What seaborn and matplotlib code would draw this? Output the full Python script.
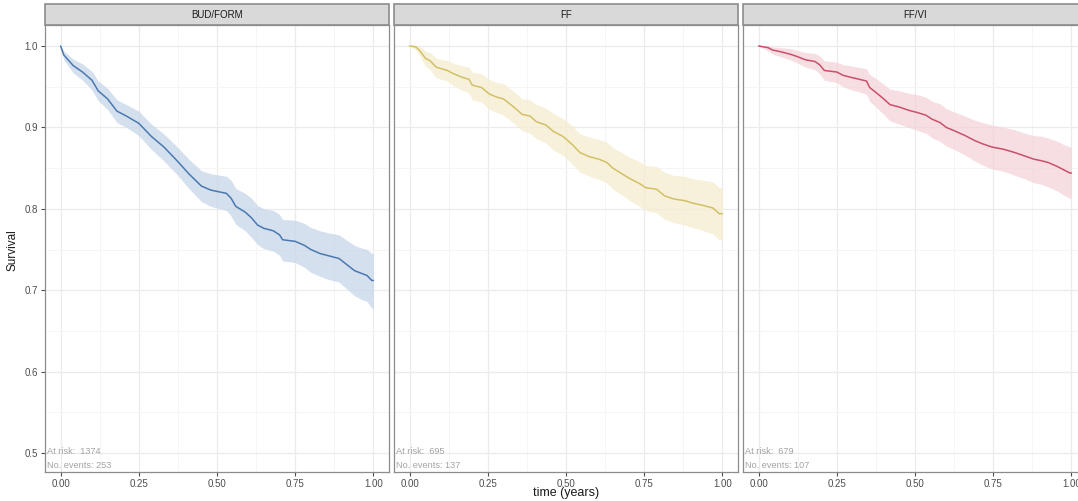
import numpy as np
import pandas as pd
import matplotlib
matplotlib.use("Agg")
import matplotlib.pyplot as plt
from matplotlib.patches import Rectangle
import seaborn as sns

sns.set_theme(style="white")
plt.rcParams["font.family"] = ["Liberation Sans", "DejaVu Sans"]

groups = ["BUD/FORM", "FF", "FF/VI"]
at_risk = [1374, 695, 679]
n_events = [253, 137, 107]
line_colors = ["#4A78B0", "#D2C064", "#C9506A"]
band_colors = ["#C7D6EA", "#F5EDCF", "#F3D3DA"]

budform_time = [0, 0.01, 0.04, 0.07, 0.10, 0.12, 0.15, 0.18, 0.21, 0.25, 0.29, 0.33,
                0.37, 0.41, 0.45, 0.48, 0.53, 0.545, 0.56, 0.59, 0.61, 0.63, 0.65,
                0.68, 0.70, 0.71, 0.75, 0.78, 0.80, 0.83, 0.85, 0.89, 0.92, 0.94,
                0.96, 0.98, 0.995, 1.0]
budform_surv = [1.0, 0.989, 0.976, 0.968, 0.958, 0.945, 0.935, 0.920, 0.914, 0.905,
                0.889, 0.876, 0.860, 0.843, 0.828, 0.823, 0.819, 0.813, 0.803, 0.796,
                0.789, 0.780, 0.776, 0.773, 0.768, 0.762, 0.760, 0.755, 0.750, 0.745,
                0.743, 0.739, 0.730, 0.724, 0.721, 0.718, 0.712, 0.712]
budform_upper = [1.0, 0.994, 0.984, 0.978, 0.969, 0.957, 0.948, 0.934, 0.928, 0.920,
                 0.904, 0.892, 0.877, 0.861, 0.847, 0.843, 0.840, 0.835, 0.825, 0.819,
                 0.813, 0.804, 0.800, 0.798, 0.793, 0.787, 0.786, 0.782, 0.777, 0.773,
                 0.771, 0.768, 0.760, 0.755, 0.752, 0.750, 0.745, 0.745]
budform_lower = [1.0, 0.983, 0.967, 0.958, 0.946, 0.933, 0.922, 0.906, 0.900, 0.890,
                 0.873, 0.859, 0.843, 0.825, 0.809, 0.803, 0.798, 0.791, 0.781, 0.773,
                 0.765, 0.756, 0.751, 0.748, 0.743, 0.736, 0.734, 0.728, 0.722, 0.717,
                 0.714, 0.710, 0.700, 0.693, 0.689, 0.686, 0.678, 0.678]

ff_time = [0, 0.02, 0.035, 0.05, 0.065, 0.085, 0.12, 0.14, 0.165, 0.19, 0.20, 0.23,
           0.255, 0.28, 0.30, 0.33, 0.36, 0.385, 0.405, 0.435, 0.46, 0.49, 0.52,
           0.545, 0.575, 0.605, 0.63, 0.65, 0.675, 0.70, 0.735, 0.755, 0.79, 0.815,
           0.845, 0.88, 0.905, 0.94, 0.97, 0.99, 1.0]
ff_surv = [1.0, 0.999, 0.993, 0.985, 0.982, 0.974, 0.970, 0.966, 0.962, 0.959, 0.952,
           0.949, 0.941, 0.937, 0.935, 0.926, 0.916, 0.914, 0.907, 0.903, 0.895, 0.889,
           0.879, 0.869, 0.864, 0.861, 0.857, 0.850, 0.844, 0.838, 0.831, 0.826, 0.824,
           0.816, 0.812, 0.810, 0.807, 0.804, 0.801, 0.794, 0.794]
ff_upper = [1.0, 1.0, 0.999, 0.994, 0.992, 0.985, 0.982, 0.979, 0.976, 0.974, 0.968,
            0.966, 0.959, 0.955, 0.954, 0.945, 0.935, 0.934, 0.928, 0.924, 0.917, 0.911,
            0.902, 0.892, 0.888, 0.885, 0.882, 0.875, 0.870, 0.864, 0.858, 0.853, 0.852,
            0.845, 0.841, 0.840, 0.837, 0.835, 0.833, 0.826, 0.826]
ff_lower = [1.0, 0.995, 0.986, 0.975, 0.971, 0.961, 0.957, 0.951, 0.946, 0.942, 0.934,
            0.931, 0.922, 0.918, 0.915, 0.906, 0.896, 0.893, 0.886, 0.881, 0.872, 0.866,
            0.855, 0.845, 0.840, 0.836, 0.832, 0.824, 0.818, 0.811, 0.803, 0.798, 0.795,
            0.787, 0.783, 0.780, 0.777, 0.773, 0.769, 0.762, 0.762]

ffvi_time = [0, 0.03, 0.045, 0.07, 0.10, 0.12, 0.15, 0.18, 0.195, 0.21, 0.25, 0.27,
             0.29, 0.345, 0.355, 0.375, 0.40, 0.42, 0.45, 0.48, 0.51, 0.535, 0.555,
             0.58, 0.60, 0.625, 0.66, 0.69, 0.715, 0.745, 0.785, 0.82, 0.85, 0.88,
             0.905, 0.925, 0.955, 0.975, 0.995, 1.0]
ffvi_surv = [1.0, 0.998, 0.995, 0.993, 0.990, 0.9875, 0.983, 0.981, 0.977, 0.970,
             0.968, 0.964, 0.962, 0.957, 0.949, 0.943, 0.935, 0.928, 0.925, 0.921,
             0.918, 0.915, 0.910, 0.906, 0.900, 0.896, 0.890, 0.884, 0.880, 0.876,
             0.873, 0.869, 0.865, 0.861, 0.859, 0.857, 0.852, 0.848, 0.844, 0.844]
ffvi_upper = [1.0, 1.0, 0.999, 0.998, 0.997, 0.995, 0.992, 0.991, 0.988, 0.982, 0.980,
              0.977, 0.976, 0.972, 0.965, 0.960, 0.953, 0.947, 0.945, 0.942, 0.940,
              0.937, 0.932, 0.929, 0.923, 0.919, 0.914, 0.909, 0.906, 0.903, 0.900,
              0.897, 0.893, 0.890, 0.889, 0.887, 0.883, 0.879, 0.876, 0.876]
ffvi_lower = [1.0, 0.994, 0.990, 0.987, 0.983, 0.980, 0.974, 0.971, 0.966, 0.958,
              0.955, 0.950, 0.947, 0.941, 0.932, 0.925, 0.916, 0.908, 0.904, 0.900,
              0.896, 0.893, 0.887, 0.883, 0.877, 0.873, 0.866, 0.859, 0.854, 0.849,
              0.846, 0.841, 0.837, 0.832, 0.830, 0.827, 0.822, 0.817, 0.813, 0.813]

x_ticks = [0.0, 0.25, 0.5, 0.75, 1.0]
x_tick_labels = ["0.00", "0.25", "0.50", "0.75", "1.00"]
y_ticks = [0.5, 0.6, 0.7, 0.8, 0.9, 1.0]
y_tick_labels = ["0.5", "0.6", "0.7", "0.8", "0.9", "1.0"]

curves = pd.concat([
    pd.DataFrame({"group": g, "time": t, "surv": s, "lower": lo, "upper": up})
    for g, t, s, lo, up in [
        ("BUD/FORM", budform_time, budform_surv, budform_lower, budform_upper),
        ("FF", ff_time, ff_surv, ff_lower, ff_upper),
        ("FF/VI", ffvi_time, ffvi_surv, ffvi_lower, ffvi_upper),
    ]
], ignore_index=True)

W, H = 1078, 501
fig = plt.figure(figsize=(W / 100, H / 100), dpi=100)

panel_left = [45, 394, 743]
panel_width = 344
top_px, bottom_px = 25, 472
strip_top = 4

tick_color = "#4D4D4D"
frame_color = "#8C8C8C"

for i, g in enumerate(groups):
    l = panel_left[i] / W
    b = 1 - bottom_px / H
    w = panel_width / W
    h = (bottom_px - top_px) / H
    ax = fig.add_axes([l, b, w, h])
    sub = curves[curves["group"] == g]

    # confidence band and survival estimate
    ax.fill_between(sub["time"], sub["lower"], sub["upper"],
                    color=band_colors[i], alpha=0.75, linewidth=0, zorder=2)
    sns.lineplot(data=sub, x="time", y="surv", ax=ax, color=line_colors[i],
                 estimator=None, linewidth=1.1, zorder=3)

    ax.set_xlim(-0.05, 1.05)
    ax.set_ylim(0.4767, 1.0258)
    ax.set_xticks(x_ticks)
    ax.set_xticklabels(x_tick_labels)
    ax.set_xticks([0.125, 0.375, 0.625, 0.875], minor=True)
    ax.set_yticks(y_ticks)
    ax.set_yticks([0.55, 0.65, 0.75, 0.85, 0.95], minor=True)
    if i == 0:
        ax.set_yticklabels(y_tick_labels)
    else:
        ax.set_yticklabels([])
        ax.tick_params(axis="y", which="major", length=0)
    ax.grid(which="major", color="#EBEBEB", linewidth=0.9, zorder=0)
    ax.grid(which="minor", color="#F4F4F4", linewidth=0.6, zorder=0)
    ax.set_axisbelow(True)
    ax.tick_params(axis="both", which="major", labelsize=7, colors=tick_color,
                   length=3, width=0.8, direction="out", pad=2,
                   left=(i == 0), bottom=True)
    ax.tick_params(axis="both", which="minor", length=0)
    for sp in ax.spines.values():
        sp.set_color(frame_color)
        sp.set_linewidth(0.9)
    ax.set_xlabel("")
    ax.set_ylabel("")

    ax.text(0.006, 0.0455, f"At risk:  {at_risk[i]}", transform=ax.transAxes,
            fontsize=6.6, color="#A3A3A3", ha="left", va="center")
    ax.text(0.006, 0.0145, f"No. events: {n_events[i]}", transform=ax.transAxes,
            fontsize=6.6, color="#A3A3A3", ha="left", va="center")

    # facet strip
    sax = fig.add_axes([l, 1 - top_px / H, w, (top_px - strip_top) / H])
    sax.set_xlim(0, 1)
    sax.set_ylim(0, 1)
    sax.add_patch(Rectangle((0, 0), 1, 1, facecolor="#D9D9D9", edgecolor=frame_color,
                            linewidth=1.2, transform=sax.transAxes, clip_on=False))
    sax.text(0.5, 0.5, g, ha="center", va="center", fontsize=7, color="#1A1A1A")
    sax.axis("off")

fig.text(12 / W, 1 - 250 / H, "Survival", rotation=90, ha="center", va="center",
         fontsize=8.5, color="#1A1A1A")
fig.text(566 / W, 1 - 493 / H, "time (years)", ha="center", va="center",
         fontsize=9, color="#1A1A1A")

fig.savefig("out.png", dpi=100)
